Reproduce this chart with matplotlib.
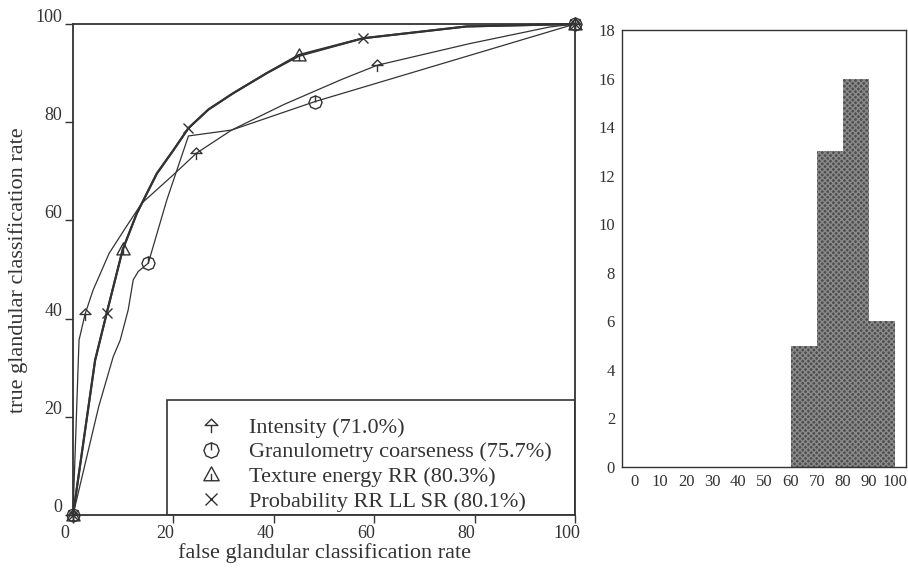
import numpy as np
import matplotlib.pyplot as plt
from matplotlib.path import Path
from matplotlib.lines import Line2D
from matplotlib.patches import Rectangle
from matplotlib.transforms import ScaledTranslation

# --- ROC curves ---
intensity_x = [0, 1.2, 2.4, 4, 7.2, 10.6, 13.7, 19.9, 24.6, 31.6, 42, 53.5, 60.6, 79, 95, 100]
intensity_y = [0, 35.6, 40.9, 45.8, 53.3, 58.7, 63.5, 69.2, 73.7, 78.4, 83.6, 88.7, 91.6, 96, 99.4, 100]

granulo_x = [0, 5.1, 8, 9.4, 11, 12, 13, 15, 18.7, 23, 31.6, 48.2, 100]
granulo_y = [0, 22, 32.2, 35.6, 41.8, 47.9, 49.6, 51.3, 64.2, 77.2, 78.4, 84.2, 100]

texture_x = [0, 4.4, 6.7, 9.9, 12.7, 16.7, 20, 23, 27, 31.9, 38.6, 45, 57.8, 78.4, 100]
texture_y = [0, 31.6, 41, 54.1, 61.4, 69.6, 74.3, 78.8, 82.6, 85.9, 90, 93.7, 97.1, 99.5, 100]

prob_x = [0, 4.4, 6.7, 9.9, 12.7, 16.7, 20, 23, 27, 31.9, 38.6, 45, 57.8, 78.4, 100]
prob_y = [0, 31.4, 41.1, 54, 61.4, 69.5, 74.3, 78.8, 82.6, 85.9, 90, 93.5, 97.1, 99.5, 100]

labels = ["Intensity (71.0%)", "Granulometry coarseness (75.7%)",
          "Texture energy RR (80.3%)", "Probability RR LL SR (80.1%)"]

# --- histogram ---
bin_left = [60, 70, 80, 90]
counts = [5, 13, 16, 6]

# custom markers
M, L, C = Path.MOVETO, Path.LINETO, Path.CLOSEPOLY
arrow_mk = Path([(0, 0.5), (-0.5, 0), (0.5, 0), (0, 0.5), (0, 0), (0, -0.6)],
                [M, L, L, C, M, L])
ang = np.linspace(np.pi / 2, np.pi / 2 + 2 * np.pi, 9)
circ_v = list(zip(0.5 * np.cos(ang), 0.5 * np.sin(ang)))
circ_mk = Path(circ_v + [(0, 0.5), (0, 0)], [M] + [L] * 7 + [C] + [M, L])
tri_mk = Path([(0, 0.55), (-0.55, -0.45), (0.55, -0.45), (0, 0.55), (0, 0.05), (0, -0.45)],
              [M, L, L, C, M, L])

ink = '#333333'
serif = ['Liberation Serif', 'DejaVu Serif']
plt.rcParams['font.family'] = serif

fig = plt.figure(figsize=(9.08, 5.78), dpi=100)
ax = fig.add_axes([73 / 908, 63 / 578, 502 / 908, 491 / 578])

styles = [
    (intensity_x, intensity_y, arrow_mk, [0, 2, 8, 12, 15], 0.9, 9.5),
    (granulo_x, granulo_y, circ_mk, [0, 7, 11, 12], 0.9, 9.5),
    (texture_x, texture_y, tri_mk, [0, 3, 11, 14], 1.5, 9.5),
    (prob_x, prob_y, 'x', [0, 2, 7, 12, 14], 1.5, 7.5),
]
handles = []
for (xs, ys, mk, every, lw, ms), lab in zip(styles, labels):
    ax.plot(xs, ys, color=ink, lw=lw, marker=mk, markevery=every, ms=ms,
            mfc='none', mec=ink, mew=1.0, clip_on=False, zorder=3)
    handles.append(Line2D([], [], ls='none', marker=mk, ms=ms + 1.5, mfc='none',
                          mec=ink, mew=1.0))

ax.set_xlim(0, 100)
ax.set_ylim(0, 100)
ax.set_xticks(range(0, 101, 20))
ax.set_yticks(range(0, 101, 20))
ax.tick_params(direction='out', length=6, width=1, colors=ink, labelsize=13, pad=1.5)
for s in ax.spines.values():
    s.set_linewidth(1.3)
    s.set_color(ink)

# old-style offset of tick labels
for t in ax.get_xticklabels():
    t.set_transform(t.get_transform() + ScaledTranslation(-0.08, 0, fig.dpi_scale_trans))
for t in ax.get_yticklabels():
    t.set_transform(t.get_transform() + ScaledTranslation(0, 0.09, fig.dpi_scale_trans))

# legend box
ax.add_patch(Rectangle(((167 - 73) / 502, 0), (575 - 167) / 502, (515 - 399.5) / 491,
                       transform=ax.transAxes, fill=False, ec=ink, lw=1.2, zorder=4))
ax.legend(handles, labels, loc='center left', bbox_to_anchor=((200 - 73) / 502, 0.103),
          frameon=False, fontsize=16, handlelength=1.0, handletextpad=1.2,
          labelspacing=0.18, borderpad=0, borderaxespad=0, labelcolor=ink)

fig.text(324 / 908, 1 - 553 / 578, 'false glandular classification rate',
         ha='center', va='center', fontsize=16, color=ink)
fig.text(18 / 908, 1 - 270 / 578, 'true glandular classification rate',
         ha='center', va='center', rotation=90, fontsize=16, color=ink)

# --- right: histogram ---
ax2 = fig.add_axes([622 / 908, 111 / 578, 284 / 908, 437 / 578])
ax2.bar(bin_left, counts, width=10, align='edge', color='#4f4f4f',
        hatch='xxxxxx', edgecolor='#8a8a8a', linewidth=0)
ax2.set_xlim(-4.6, 104.2)
ax2.set_ylim(0, 18)
ax2.set_xticks(range(0, 101, 10))
ax2.set_yticks(range(0, 19, 2))
ax2.tick_params(length=0, colors=ink, labelsize=12, pad=5)
for s in ax2.spines.values():
    s.set_linewidth(1.0)
    s.set_color(ink)

fig.savefig('out.png', dpi=100)
